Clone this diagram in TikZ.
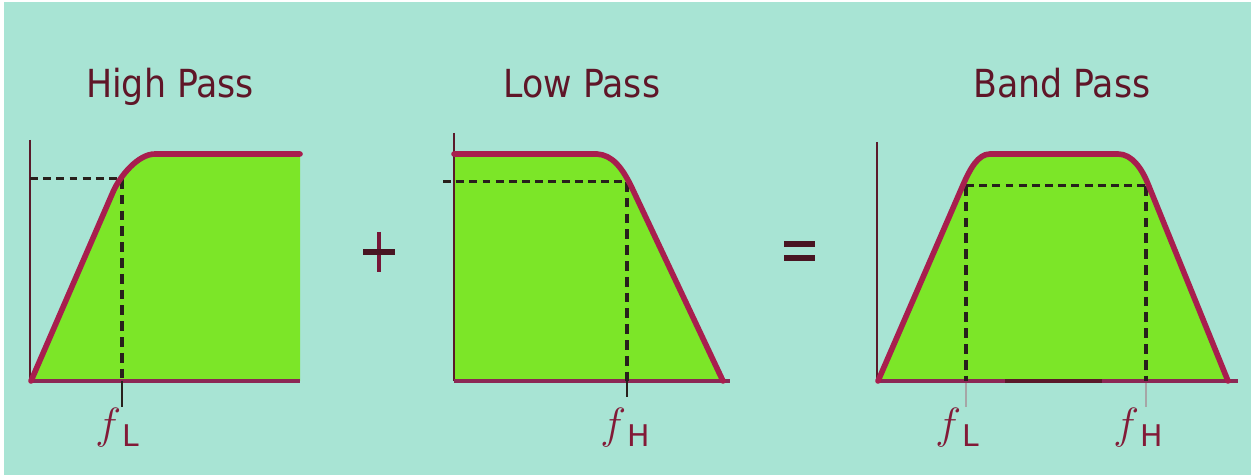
\documentclass[tikz,border=0pt]{standalone}
\usepackage{fontspec}
\setsansfont{DejaVu Sans Condensed}
\newfontfamily\labfont{DejaVu Sans}
\definecolor{bgteal}{RGB}{168,228,212}
\definecolor{passgreen}{RGB}{124,230,40}
\definecolor{curvered}{RGB}{168,30,78}
\definecolor{axiscol}{RGB}{90,26,42}
\definecolor{basecol}{RGB}{140,40,85}
\definecolor{dashcol}{RGB}{40,32,28}
\definecolor{textcol}{RGB}{95,22,40}
\definecolor{labcol}{RGB}{130,26,55}
\tikzset{
  px/.style={x={(0.02cm,0)},y={(0,-0.02cm)}},
  fillarea/.style={fill=passgreen,draw=none},
  resp/.style={draw=curvered,line width=3.2pt,line join=round,line cap=round},
  yaxis/.style={draw=axiscol,line width=1.2pt},
  baseaxis/.style={draw=basecol,line width=2.4pt},
  dashh/.style={draw=dashcol,line width=1.7pt,dash pattern=on 4.5pt off 3pt},
  dashv/.style={draw=dashcol,line width=2.2pt,dash pattern=on 5.5pt off 3.5pt},
  tickdark/.style={draw=dashcol,line width=0.8pt},
  ticklight/.style={draw=gray!70,line width=1pt},
  title/.style={font=\sffamily\fontsize{22}{24}\selectfont,text=textcol,inner sep=0pt,anchor=base},
  flabel/.style={text=labcol,inner sep=0pt,anchor=base west},
  opbar/.style={draw=axiscol!80!black,line width=3pt},
  opbarthin/.style={draw=curvered!70!black,line width=2pt}
}
\newcommand{\fsym}{{\fontsize{25}{25}\selectfont$f$}}
\newcommand{\fsub}[1]{\raisebox{-0.16cm}{\labfont\fontsize{17}{17}\selectfont #1}}
\begin{document}
\begin{tikzpicture}[px]
\useasboundingbox (0,0) rectangle (1251,475);
\fill[white] (0,0) rectangle (1251,475);
\fill[bgteal] (4,2) rectangle (1251,475);

% ---------- High Pass ----------
\fill[fillarea] (31,381) -- (113,192) .. controls (120,176) and (138,154) .. (155,154) -- (300,154) -- (300,381) -- cycle;
\draw[yaxis] (30,140) -- (30,381);
\draw[baseaxis] (30,381) -- (300,381);
\draw[dashh] (30,179) -- (120,179);
\draw[dashv] (122,179) -- (122,381);
\draw[tickdark] (122,381) -- (122,407);
\draw[resp] (31,381) -- (113,192) .. controls (120,176) and (138,154) .. (155,154) -- (300,154);
\node[title] (hp) at (170,98) {High Pass};
\node[flabel] (fl1) at (95,439) {\fsym\kern1pt\fsub{L}};

% ---------- plus ----------
\draw[opbarthin] (379,232) -- (379,272);
\draw[opbar] (363,252) -- (395,252);

% ---------- Low Pass ----------
\fill[fillarea] (454,154) -- (597,154) .. controls (612,155) and (622,167) .. (632,188) -- (723,381) -- (454,381) -- cycle;
\draw[yaxis] (454,133) -- (454,381);
\draw[baseaxis] (454,381) -- (730,381);
\draw[dashh] (443,182) -- (627,182);
\draw[dashv] (627,182) -- (627,381);
\draw[tickdark] (627,381) -- (627,397);
\draw[resp] (454,154) -- (597,154) .. controls (612,155) and (622,167) .. (632,188) -- (723,381);
\node[title] (lp) at (582,98) {Low Pass};
\node[flabel] (fh1) at (600,439) {\fsym\kern1pt\fsub{H}};

% ---------- equals ----------
\draw[opbar] (784,244) -- (815,244);
\draw[opbar] (784,258) -- (815,258);

% ---------- Band Pass ----------
\fill[fillarea] (878,381) -- (963,185) .. controls (970,169) and (978,154) .. (990,154) -- (1118,154) .. controls (1132,154) and (1142,169) .. (1148,184) -- (1228,381) -- cycle;
\draw[yaxis] (877,142) -- (877,381);
\draw[baseaxis] (877,381) -- (1238,381);
\draw[draw=axiscol,line width=2.4pt] (1005,381) -- (1102,381);
\draw[dashh] (966,186) -- (1146,186);
\draw[dashv] (966,186) -- (966,381);
\draw[dashv] (1146,186) -- (1146,381);
\draw[ticklight] (966,383) -- (966,407);
\draw[ticklight] (1146,383) -- (1146,407);
\draw[resp] (878,381) -- (963,185) .. controls (970,169) and (978,154) .. (990,154) -- (1118,154) .. controls (1132,154) and (1142,169) .. (1148,184) -- (1228,381);
\node[title] (bp) at (1062,98) {Band Pass};
\node[flabel] (fl2) at (935,439) {\fsym\kern1pt\fsub{L}};
\node[flabel] (fh2) at (1113,439) {\fsym\kern1pt\fsub{H}};
\end{tikzpicture}
\end{document}
